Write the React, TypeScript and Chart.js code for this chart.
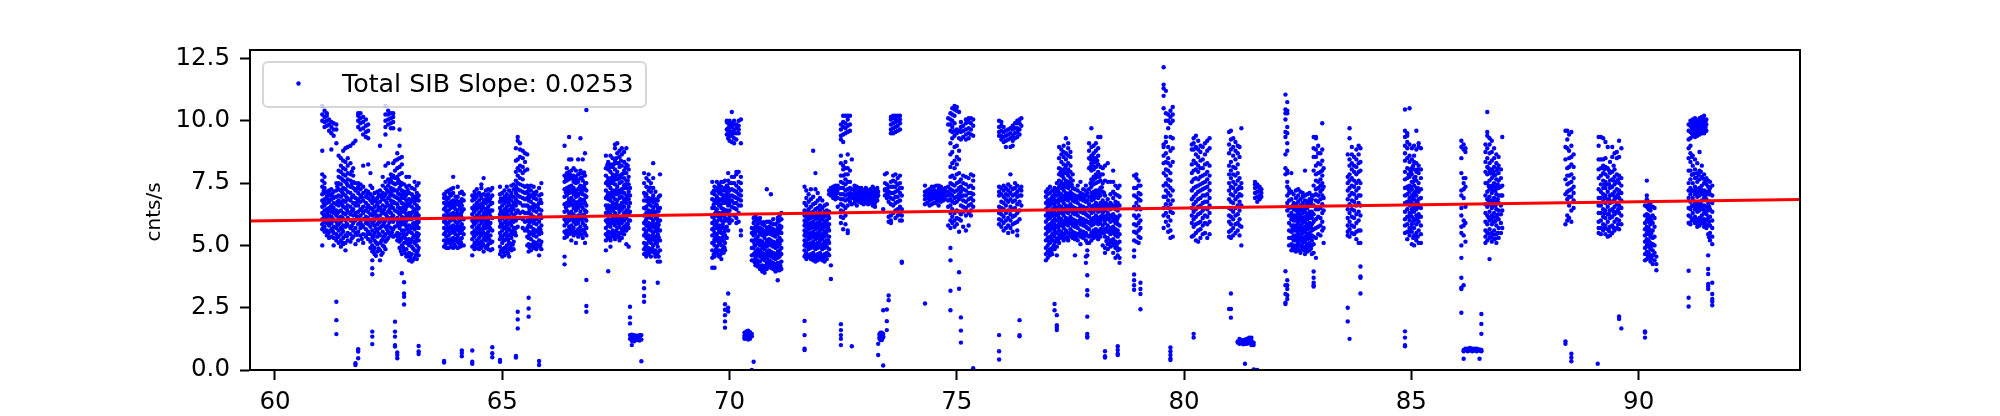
import React, { useEffect, useRef } from "react";
import { Chart, registerables } from "chart.js";

Chart.register(...registerables);

type Column = [number, number[]];

const xTickValues = [60, 65, 70, 75, 80, 85, 90];
const yTickValues = [0, 2.5, 5, 7.5, 10, 12.5];
const fitX = [59.45, 93.55];
const fitY = [5.98, 6.84];
const legendLabel = "Total SIB Slope: 0.0253";
const yTitle = "cnts/s";

const block60to64: Column[] = [
  [61.04,[5.0,5.65,5.85,6.05,6.3,6.55,6.8,7.05,7.35,7.6,7.85,8.8,10.0,10.25,10.6]],
  [61.09,[5.55,5.75,5.95,6.15,6.4,6.6,6.85,7.1,7.3,7.5,7.75,9.75,9.95,10.15,10.4]],
  [61.14,[5.4,5.6,5.9,6.1,6.25,6.45,6.7,6.95,7.15,9.8,10.0,10.2,10.3]],
  [61.19,[5.3,5.55,5.8,6.0,6.2,6.5,6.75,7.0,7.2,9.6,9.85,10.05]],
  [61.24,[5.35,5.65,5.9,6.15,6.35,6.6,6.85,7.05,7.25,9.5,9.75,9.95,8.85]],
  [61.29,[5.0,5.3,5.5,5.75,6.0,6.3,6.5,6.7,6.9,7.15,9.4,9.65,9.9]],
  [61.35,[5.2,5.45,5.7,5.95,6.2,6.4,6.65,6.95,7.2,7.5,9.65,9.85,9.1,2.74,2.0,1.44]],
  [61.4,[5.1,5.35,5.6,5.85,6.1,6.35,6.6,6.8,7.0,7.25,7.5,7.75,8.0,8.6]],
  [61.45,[4.95,5.2,5.45,5.7,5.95,6.15,6.4,6.7,6.95,7.2,7.45,7.7,7.95,8.2,8.5]],
  [61.5,[5.05,5.3,5.55,5.8,6.05,6.3,6.55,6.8,7.05,7.3,7.6,7.85,8.1,8.4,8.8]],
  [61.55,[4.8,5.1,5.4,5.75,6.0,6.25,6.5,6.75,7.0,7.25,7.55,7.8,8.05,8.35,8.9]],
  [61.6,[5.2,5.5,5.8,6.1,6.35,6.6,6.85,7.15,7.4,7.65,7.9,8.2,8.5,8.95]],
  [61.66,[5.15,5.45,5.7,6.0,6.25,6.55,6.8,7.1,7.35,7.6,7.85,8.3,9.0]],
  [61.72,[5.35,5.6,5.9,6.2,6.45,6.7,7.0,7.3,7.55,7.8,8.1,9.1]],
  [61.77,[5.05,5.5,5.7,6.0,6.3,6.6,6.9,7.2,7.5,9.2,0.27,0.2]],
  [61.83,[5.2,5.55,5.85,6.1,6.35,6.6,6.85,7.1,7.35,7.5,9.75,10.0,10.2,10.3,0.47,0.74,0.83]],
  [61.88,[5.4,5.7,5.95,6.2,6.45,6.75,7.0,7.25,7.45,9.65,9.9,10.1,10.3]],
  [61.94,[5.1,5.45,5.75,6.05,6.3,6.55,6.8,7.1,7.35,8.2,9.45,9.7,9.95,10.15]],
  [62.0,[5.35,5.65,5.9,6.15,6.4,6.7,6.95,7.2,9.35,9.55,9.8,10.05]],
  [62.05,[5.25,5.55,5.85,6.1,6.35,6.6,6.9,7.15,8.25,9.3,9.6,9.85]],
  [62.1,[4.9,5.15,5.45,5.75,6.0,6.25,6.5,6.8,7.05,7.4,7.9]],
  [62.14,[4.4,4.75,5.0,5.3,5.6,5.9,6.2,6.45,6.7,6.95,7.3,4.08,3.84,1.54,1.34,1.04]],
  [62.19,[4.65,4.9,5.2,5.5,5.8,6.05,6.3,6.55,6.8,7.1]],
  [62.25,[4.75,5.05,5.35,5.6,5.85,6.1,6.4,6.65,6.9,7.15]],
  [62.31,[4.4,4.8,5.1,5.4,5.7,5.95,6.2,6.5,6.75,7.0,7.2,9.0]],
  [62.37,[4.7,5.0,5.25,5.55,5.8,6.05,6.3,6.6,6.85,7.1,7.4,7.75]],
  [62.43,[4.85,5.15,5.45,5.75,6.0,6.25,6.55,6.8,7.05,7.3,7.55,8.2,9.45,9.75,10.0,10.25,10.6]],
  [62.49,[5.3,5.55,5.8,6.1,6.35,6.6,6.9,7.15,7.4,7.65,8.3,9.85,10.05,10.25,10.4]],
  [62.55,[5.4,5.7,6.0,6.3,6.55,6.8,7.05,7.3,7.6,7.85,9.7,9.9,10.1,10.3]],
  [62.6,[5.35,5.65,5.95,6.2,6.5,6.75,7.0,7.25,7.5,7.8,8.3,9.7,9.95,10.15,10.3]],
  [62.64,[5.4,5.75,6.05,6.4,6.7,6.95,7.2,7.45,7.7,8.0,8.4,1.94,1.54,1.34,1.0,0.94]],
  [62.69,[5.2,5.5,5.8,6.1,6.35,6.65,6.9,7.2,7.5,7.75,8.1,8.45,8.7,0.7,0.6,0.47]],
  [62.74,[4.9,5.15,5.45,5.7,6.0,6.25,6.5,6.8,7.05,7.3,7.55,7.85,8.15,8.5,9.0,9.65]],
  [62.79,[4.65,5.0,5.3,5.6,5.9,6.15,6.4,6.7,6.95,7.2,7.5,7.9,8.25,8.55,3.88]],
  [62.84,[4.8,5.1,5.35,5.6,5.85,6.1,6.35,6.65,6.9,7.15,7.45,3.52,3.07,2.94,2.63]],
  [62.89,[4.55,4.85,5.15,5.45,5.75,6.0,6.25,6.55,6.8,7.05,7.35,7.75]],
  [62.95,[4.4,4.7,5.0,5.25,5.55,5.8,6.05,6.3,6.6,6.85,7.1,7.4,7.75]],
  [63.01,[4.35,4.65,4.95,5.2,5.5,5.75,6.05,6.3,6.55,6.8,7.05,7.3]],
  [63.07,[4.5,4.8,5.1,5.4,5.65,5.9,6.15,6.45,6.7,6.95,7.25,7.55]],
  [63.12,[4.45,4.7,5.0,5.25,5.5,5.8,6.05,6.3,6.6,6.85,7.1,7.4]],
  [63.16,[4.6,4.9,5.2,5.45,5.7,5.95,6.2,6.5,6.8,7.0,7.5,0.96,0.74,0.64]],
  [63.72,[4.95,5.2,5.45,5.7,5.95,6.2,6.45,6.7,6.9,7.05,0.36,0.3]],
  [63.77,[4.9,5.1,5.35,5.6,5.85,6.1,6.35,6.6,6.85,7.15]],
  [63.82,[4.9,5.15,5.4,5.65,5.9,6.15,6.4,6.65,6.9,7.2]],
  [63.87,[4.95,5.25,5.5,5.75,6.0,6.25,6.5,6.75,7.0,7.25]],
  [63.92,[4.9,5.1,5.3,5.55,5.8,6.05,6.3,6.55,6.8,7.1,7.3,7.75]],
  [63.97,[4.95,5.2,5.45,5.7,5.95,6.2,6.45,6.7,6.95]],
  [64.02,[4.9,5.15,5.4,5.65,5.9,6.15,6.4,6.65,6.95,7.35]],
  [64.07,[4.95,5.25,5.5,5.75,6.0,6.25,6.5,6.75,7.1]],
  [64.11,[5.0,5.3,5.6,5.85,6.1,6.35,6.6,6.85,7.15,0.78,0.68,0.55]],
  [64.15,[5.0,5.45,5.7,6.05,6.45,6.8,7.05]],
];

const block64to69: Column[] = [
  [64.34,[4.6,4.95,5.25,5.5,5.75,6.0,6.25,6.5,6.8,7.0,0.78,0.33,0.25]],
  [64.39,[4.85,5.1,5.35,5.6,5.85,6.1,6.35,6.6,6.85,7.15]],
  [64.44,[4.9,5.2,5.45,5.7,5.95,6.2,6.45,6.7,6.95,7.25]],
  [64.49,[4.85,5.05,5.3,5.55,5.8,6.05,6.3,6.55,6.8,7.1]],
  [64.54,[4.9,5.15,5.4,5.65,5.9,6.15,6.4,6.65,6.9,7.3,7.45]],
  [64.59,[4.75,5.0,5.25,5.5,5.75,6.0,6.25,6.5,6.75,7.05,7.7]],
  [64.64,[4.9,5.2,5.45,5.7,5.95,6.2,6.45,6.7,7.0,7.2]],
  [64.69,[4.85,5.05,5.3,5.55,5.8,6.05,6.3,6.55,6.8,7.05,7.25]],
  [64.74,[4.8,5.1,5.4,5.65,5.9,6.15,6.4,6.65,6.9,7.2]],
  [64.78,[4.85,5.15,5.6,6.1,6.4,6.7,7.0,7.3,0.91,0.67,0.51]],
  [64.95,[4.65,4.95,5.25,5.5,5.75,6.0,6.25,6.5,6.75,7.05,7.35,0.4,0.33]],
  [65.0,[4.55,4.85,5.1,5.35,5.6,5.85,6.1,6.35,6.6,6.85,7.1]],
  [65.05,[4.6,4.9,5.2,5.45,5.7,5.95,6.2,6.45,6.7,6.95,7.2]],
  [65.1,[4.75,5.0,5.3,5.55,5.8,6.05,6.3,6.55,6.8,7.05,7.35]],
  [65.15,[4.55,4.85,5.1,5.4,5.65,5.9,6.15,6.4,6.65,6.9,7.2]],
  [65.2,[4.8,5.05,5.3,5.55,5.8,6.05,6.3,6.55,6.8,7.1,7.4]],
  [65.25,[4.85,5.15,5.45,5.7,5.95,6.2,6.45,6.7,6.95,7.25,7.45]],
  [65.3,[5.4,5.7,6.0,6.3,6.6,6.85,7.1,7.35,7.6,7.95,8.4,8.9,0.56,0.5]],
  [65.34,[5.75,6.1,6.4,6.75,7.0,7.25,7.5,7.8,8.1,8.45,9.2,9.35,2.34,2.03,1.67]],
  [65.39,[6.1,6.3,6.7,6.95,7.2,7.45,7.7,8.0,8.2,8.55,8.85,9.1]],
  [65.45,[5.7,6.05,6.35,6.6,6.9,7.15,7.4,7.65,7.9,8.15,8.5,8.8]],
  [65.5,[5.6,5.95,6.3,6.6,6.85,7.1,7.35,8.0,8.35,8.7]],
  [65.55,[5.0,5.35,5.7,6.0,6.3,6.6,6.9,7.15,7.4,8.05,8.65]],
  [65.58,[4.75,5.05,5.3,5.55,5.8,6.05,6.3,6.55,6.8,7.05,7.3,2.9,2.47,2.14]],
  [65.63,[4.8,5.0,5.25,5.5,5.75,6.0,6.25,6.5,6.75,7.0,7.2,7.4]],
  [65.69,[4.9,5.15,5.4,5.65,5.9,6.15,6.4,6.65,6.9,7.1,7.35]],
  [65.75,[4.85,5.1,5.35,5.6,5.85,6.1,6.35,6.6,6.85,7.15]],
  [65.81,[4.6,4.95,5.2,5.45,5.7,5.95,6.2,6.45,6.7,7.0,7.3,0.36,0.2]],
  [65.86,[4.85,5.15,5.5,5.8,6.1,6.4,6.7,7.05,7.5]],
  [66.37,[5.3,5.55,5.8,6.05,6.35,6.65,6.95,7.25,7.55,7.8,9.0,4.55,4.24]],
  [66.42,[5.35,5.6,5.9,6.15,6.4,6.7,7.0,7.3,7.6,7.9,8.1]],
  [66.47,[5.45,5.75,6.0,6.3,6.6,6.85,7.1,7.35,7.65,7.95,8.45,9.35]],
  [66.52,[5.2,5.5,5.8,6.05,6.35,6.65,6.9,7.15,7.4,7.7,8.0,8.45]],
  [66.57,[5.4,5.7,5.95,6.25,6.5,6.8,7.05,7.3,7.55,7.8,8.1]],
  [66.62,[5.1,5.55,5.85,6.1,6.4,6.7,6.95,7.2,7.5,7.75,8.0]],
  [66.67,[5.35,5.65,5.9,6.2,6.5,6.75,7.0,7.25,7.55,7.85,8.45]],
  [66.72,[5.45,5.75,6.05,6.35,6.6,6.85,7.1,7.4,7.7,8.0,9.3]],
  [66.77,[5.3,5.6,5.9,6.2,6.5,6.8,7.05,7.3,7.6,7.9,8.45]],
  [66.82,[5.1,5.5,5.8,6.1,6.4,6.7,7.0,7.25,7.5,7.8,8.7]],
  [66.85,[5.4,5.7,6.0,6.35,6.6,6.95,7.2,7.5,10.43,3.61,2.57,2.34]],
  [67.28,[4.8,5.2,5.45,5.7,6.0,6.3,6.6,6.9,7.2,7.5,7.8,8.1,8.6]],
  [67.33,[5.3,5.55,5.8,6.05,6.3,6.6,6.85,7.1,7.4,7.7,8.05,8.35,3.96]],
  [67.38,[4.95,5.2,5.5,5.75,6.0,6.25,6.5,6.8,7.05,7.3,7.6,7.95,8.25,8.6]],
  [67.43,[5.35,5.6,5.9,6.15,6.4,6.7,6.95,7.2,7.5,7.85,8.15,8.5]],
  [67.48,[5.25,5.5,5.8,6.05,6.3,6.6,6.85,7.15,7.45,7.75,8.05,8.4,8.9,9.05]],
  [67.53,[5.4,5.7,5.95,6.2,6.5,6.8,7.05,7.35,7.65,7.95,8.3,8.7,9.1]],
  [67.58,[5.2,5.5,5.75,6.05,6.35,6.6,6.9,7.2,7.5,7.8,8.15,8.55,8.8]],
  [67.63,[5.3,5.65,5.9,6.15,6.45,6.7,6.95,7.25,7.55,7.85,8.2,8.65,8.9]],
  [67.68,[5.45,5.75,6.0,6.3,6.55,6.85,7.1,7.4,7.7,8.0,8.35,8.75]],
  [67.73,[5.05,5.6,5.85,6.1,6.4,6.7,7.0,7.3,7.6,7.9,8.25,8.9]],
  [67.78,[4.95,5.7,6.0,6.25,6.55,6.85,7.15,7.45,7.75,8.05,8.45]],
  [67.81,[6.0,6.35,6.7,7.0,7.3,2.54,2.11,1.87,1.4,1.25]],
  [67.85,[1.42,1.3,1.17,1.0]],
  [67.9,[1.4,1.25,1.15]],
  [67.96,[1.38,1.28,1.2]],
  [68.02,[1.4,1.3,1.18]],
  [68.06,[1.4,1.22,0.35]],
  [68.12,[4.65,4.85,5.1,5.4,5.65,5.9,6.2,6.5,6.8,7.1,7.5,7.9,3.54,3.28,2.97,2.74]],
  [68.17,[4.55,4.8,5.05,5.3,5.55,5.8,6.05,6.3,6.55,6.8,7.05,7.35,7.7]],
  [68.22,[4.65,4.9,5.15,5.4,5.65,5.9,6.15,6.4,6.65,6.9,7.2,7.6,7.85]],
  [68.27,[4.55,4.85,5.1,5.35,5.6,5.85,6.1,6.35,6.6,6.85,7.15,7.5]],
  [68.32,[4.75,5.0,5.25,5.5,5.75,6.0,6.25,6.5,6.75,7.0,7.3,7.7,8.3]],
  [68.37,[4.55,4.8,5.1,5.35,5.6,5.85,6.1,6.35,6.6,6.85,7.15]],
  [68.42,[4.35,4.7,4.95,5.2,5.45,5.7,5.95,6.2,6.5,6.8,3.5]],
  [68.47,[4.35,4.8,5.2,5.6,6.0,6.5,7.0,7.85]],
  [69.62,[4.1,4.5,4.8,5.1,5.4,5.65,5.9,6.15,6.5,6.85,7.1,7.55]],
  [69.67,[4.55,4.75,5.0,5.25,5.5,5.75,6.0,6.25,6.5,6.75,7.05,7.35,4.1]],
  [69.72,[4.7,4.95,5.2,5.45,5.7,5.95,6.2,6.45,6.7,6.95,7.2,7.55]],
  [69.77,[4.55,4.8,5.05,5.3,5.55,5.8,6.05,6.3,6.6,6.85,7.1,7.45]],
  [69.82,[4.45,4.75,5.0,5.25,5.5,5.75,6.0,6.25,6.5,6.8,7.05,7.35,7.55]],
  [69.87,[4.7,4.95,5.2,5.45,5.7,5.95,6.2,6.45,6.7,7.0,7.2,7.55]],
  [69.9,[4.8,5.1,5.4,5.7,6.1,6.4,6.75,7.0,7.3,7.6,2.64,2.42,2.2,1.95,1.7]],
];

const block69to73: Column[] = [
  [69.94,[5.3,5.75,6.0,6.4,6.7,6.95,7.15,7.4,9.45,9.65,9.95,10.0]],
  [69.97,[5.6,6.05,6.35,6.6,6.85,7.05,7.3,7.6,7.9,9.3,9.5,9.7,9.9,3.07,2.5,2.35]],
  [70.0,[5.9,6.15,6.4,6.7,6.95,7.2,7.5,9.2,9.4,9.6,9.8,10.0]],
  [70.05,[6.0,6.55,6.8,7.0,7.25,7.5,7.75,9.15,9.4,9.55,9.75,9.9,10.35]],
  [70.1,[6.2,6.5,6.7,6.95,7.2,7.5,7.75,9.1,9.3,9.5,9.65,9.85,10.0]],
  [70.15,[5.9,6.1,6.45,6.7,6.9,7.15,7.4,7.85,7.95,9.25,9.5,9.7,9.85]],
  [70.2,[5.95,6.3,6.6,6.85,7.05,7.3,7.55,7.95,9.5,9.65,9.8,10.0]],
  [70.25,[5.4,5.6,6.6,6.8,7.0,7.2,7.5,7.75,9.1,10.05]],
  [70.33,[1.5,1.38,1.3,1.25]],
  [70.37,[1.55,1.45,1.35,1.27]],
  [70.41,[1.58,1.48,1.4,1.3,1.22]],
  [70.45,[1.52,1.42,1.35,1.25]],
  [70.49,[5.7,5.5,5.2,4.9,4.6,4.4,1.45,1.35,0.0]],
  [70.53,[4.4,4.65,4.9,5.15,5.4,5.65,5.9,6.1,0.33]],
  [70.57,[4.2,4.5,4.75,5.0,5.25,5.5,5.75,6.0,6.2,6.15]],
  [70.62,[4.15,4.4,4.6,4.85,5.1,5.35,5.6,5.85,6.05]],
  [70.67,[4.05,4.35,4.55,4.8,5.0,5.2,5.45,5.7,5.95,6.1]],
  [70.72,[3.95,4.2,4.45,4.7,4.9,5.15,5.4,5.65,5.85]],
  [70.77,[3.9,4.15,4.4,4.65,4.85,5.05,5.3,5.55,5.8]],
  [70.82,[4.05,4.3,4.5,4.75,4.95,5.2,5.45,5.7,5.95,7.25]],
  [70.87,[4.15,4.4,4.6,4.8,5.05,5.25,5.5,5.75,5.95]],
  [70.91,[4.1,4.35,4.55,4.75,5.0,5.2,5.45,5.7,5.9,7.05]],
  [70.96,[4.05,4.3,4.5,4.7,4.95,5.15,5.4,5.65,5.85,6.05]],
  [71.01,[3.95,4.25,4.45,4.65,4.9,5.1,5.35,5.6,5.85]],
  [71.06,[3.6,4.0,4.3,4.5,4.75,4.95,5.2,5.45,5.7,5.95,6.1]],
  [71.1,[4.0,4.3,4.55,4.8,5.05,5.3,5.55,5.8,6.0,6.2]],
  [71.14,[4.05,4.35,4.65,4.9,5.2,5.5,5.75,6.05,6.3]],
  [71.65,[4.55,4.8,5.0,5.2,5.4,5.6,5.8,6.0,6.2,6.4,6.7,7.35,1.97,1.4,0.85,0.8]],
  [71.69,[4.45,4.7,4.95,5.15,5.35,5.55,5.75,5.95,6.15,6.35,6.6,6.9,7.2]],
  [71.74,[4.6,4.85,5.05,5.25,5.45,5.65,5.85,6.05,6.25,6.45,6.75,7.05]],
  [71.79,[4.45,4.65,4.9,5.1,5.3,5.5,5.7,5.9,6.1,6.3,6.55,6.85,7.25]],
  [71.84,[4.4,4.7,4.95,5.15,5.35,5.55,5.75,5.95,6.15,6.35,6.65,6.95,8.8]],
  [71.89,[4.35,4.6,4.85,5.05,5.25,5.45,5.65,5.85,6.05,6.25,6.45,6.7,7.25,7.9]],
  [71.94,[4.4,4.65,4.9,5.1,5.3,5.5,5.7,5.9,6.1,6.3,6.5,6.8,7.1]],
  [71.99,[4.45,4.7,4.95,5.2,5.4,5.6,5.8,6.0,6.2,6.4,6.6,6.9]],
  [72.04,[4.4,4.6,4.85,5.05,5.25,5.45,5.65,5.85,6.05,6.25,6.5,6.8]],
  [72.09,[4.35,4.65,4.9,5.15,5.35,5.55,5.75,5.95,6.15,6.35,6.6]],
  [72.14,[4.45,4.7,4.95,5.2,5.4,5.6,5.8,6.0,6.2,6.4,6.65]],
  [72.19,[4.6,4.85,5.1,5.35,5.6,5.85,6.1,6.35,7.05,7.2]],
  [72.23,[4.2,3.65,7.0,7.1,7.25,7.3]],
  [72.28,[6.9,7.05,7.2,7.35]],
  [72.33,[6.85,7.0,7.15,7.3,7.4]],
  [72.38,[6.55,6.9,7.1,7.25,7.4]],
  [72.45,[5.9,6.15,6.4,6.65,6.85,7.05,7.3,7.55,7.8,8.3,8.6,9.25,9.4,9.65,9.85,1.84,1.6,1.4,1.25,1.0]],
  [72.5,[5.65,6.1,6.35,6.6,6.85,7.05,7.3,7.5,7.8,8.05,8.2,9.15,9.45,9.75,9.95,10.2]],
  [72.55,[5.85,6.2,6.5,6.8,7.0,7.2,7.45,7.65,7.85,8.1,8.35,9.5,9.7,9.9,10.2]],
  [72.6,[5.5,5.6,6.6,6.85,7.05,7.25,7.55,7.85,8.1,8.65,9.55,9.8,10.05,10.2]],
  [72.65,[6.75,6.95,7.1,7.3,7.55,8.0,9.6,9.85,10.2]],
  [72.69,[6.65,6.9,7.05,7.25,8.45,0.95]],
  [72.75,[6.7,6.85,7.0,7.15,7.25,7.4]],
  [72.8,[6.6,6.8,6.95,7.1,7.25,7.35]],
  [72.85,[6.75,6.9,7.05,7.2,7.3]],
  [72.9,[6.7,6.85,7.0,7.15,7.25,7.3]],
  [72.95,[6.65,6.8,6.95,7.1,7.2]],
  [73.0,[6.7,6.85,7.0,7.1,7.2,7.3]],
  [73.05,[6.65,6.8,6.95,7.05,7.2]],
  [73.1,[6.7,6.85,7.0,7.1,7.25]],
  [73.15,[6.6,6.7,6.85,7.0,7.15,7.35]],
  [73.2,[6.7,6.8,6.95,7.1,7.25,6.55]],
  [73.25,[6.8,6.95,7.05,7.2,7.3]],
  [73.27,[7.0,7.15,1.05,0.6]],
  [73.3,[1.25,1.3,1.4,1.45]],
  [73.32,[1.2,1.35,1.45,1.5]],
  [73.35,[1.2,1.3,1.42,1.5]],
];

const block73to79: Column[] = [
  [73.38,[6.45,1.3,1.35,1.45,0.18,2.4]],
  [73.42,[7.0,7.2,7.5,7.85,7.25]],
  [73.46,[6.9,7.05,7.25,7.45,7.9,2.43,1.96,1.6]],
  [73.5,[6.75,6.95,7.15,7.35,6.15,5.95,7.15,2.99,2.8]],
  [73.55,[6.65,6.9,7.1,7.35,7.55,6.2,6.0,5.9,9.5,9.65,9.85,10.05,10.15]],
  [73.6,[6.3,6.6,6.85,7.1,7.35,7.6,7.8,9.5,9.7,9.9,10.1,10.2]],
  [73.65,[6.1,6.4,6.7,6.95,7.15,7.35,7.55,7.85,9.55,9.75,9.95,10.1,10.2]],
  [73.7,[6.2,6.45,6.75,6.95,7.2,7.45,7.7,9.6,9.8,10.0,10.2]],
  [73.75,[6.0,6.25,6.55,6.8,7.1,7.3,7.5,7.8,9.65,9.9,10.05,10.2]],
  [73.79,[6.0,6.2,6.45,7.0,7.3,4.35,4.3]],
  [74.3,[6.65,6.85,7.0,7.15,7.4,2.67]],
  [74.35,[6.7,6.9,7.05,7.2]],
  [74.4,[6.6,6.8,6.95,7.1,7.25]],
  [74.45,[6.65,6.85,7.0,7.15,7.35]],
  [74.5,[6.7,6.9,7.05,7.2,7.35]],
  [74.55,[6.7,6.85,7.0,7.15,7.4]],
  [74.6,[6.6,6.8,6.95,7.1,7.25,7.4]],
  [74.65,[6.75,6.9,7.05,7.2,7.35]],
  [74.7,[6.8,6.95,7.1,7.25]],
  [74.75,[6.85,7.0,7.15,7.3]],
  [74.81,[5.8,6.55,6.8,7.0,7.15,7.35,9.85,10.1]],
  [74.86,[5.7,6.0,6.3,6.6,6.85,7.05,7.25,7.5,7.75,8.15,8.65,9.1,9.6,9.85,10.05,10.3,4.9,4.4,3.18,2.4]],
  [74.9,[5.9,6.15,6.45,6.75,7.0,7.2,7.45,7.8,8.3,8.75,9.3,9.55,9.75,10.0,10.25,10.5]],
  [74.95,[5.75,6.0,6.3,6.7,6.9,7.15,7.4,7.7,8.1,8.4,8.95,9.4,9.6,9.9,10.2,10.45,10.6]],
  [75.0,[5.85,6.1,6.4,6.75,6.95,7.2,7.5,7.85,8.25,8.55,9.0,9.5,9.65,10.4,10.55]],
  [75.05,[5.55,6.05,6.35,6.85,7.05,7.3,7.55,7.9,8.45,8.8,9.3,9.6,10.35,3.92,3.26]],
  [75.09,[6.0,6.25,6.6,6.95,7.15,7.35,7.65,9.25,9.55,9.75,9.95,2.11,1.58,1.1]],
  [75.14,[5.75,6.35,6.55,6.8,7.0,7.25,7.5,7.8,9.35,9.6,9.8]],
  [75.2,[5.6,6.2,6.5,6.75,7.0,7.2,7.45,7.75,9.25,9.45,9.65,9.9,10.05]],
  [75.26,[5.8,6.3,6.6,6.85,7.1,7.35,7.7,9.3,9.5,9.7,9.95,10.1]],
  [75.31,[6.2,6.4,6.65,6.9,7.1,7.4,7.85,9.45,9.65,9.9,10.1]],
  [75.36,[6.55,6.8,7.05,7.3,7.6,7.8,9.4,9.8,10.05,0.07,0.0]],
  [75.93,[5.85,6.05,6.3,6.55,7.0,7.15,7.35,9.4,9.55,9.75,10.0,1.4,0.75,0.42]],
  [75.98,[5.75,6.0,6.25,6.5,6.75,7.05,7.3,9.25,9.4,9.6,9.8,9.95]],
  [76.03,[5.6,5.9,6.15,6.45,6.7,6.95,7.2,7.4,9.15,9.35,9.55,9.75]],
  [76.08,[5.7,6.0,6.3,6.6,6.85,7.05,7.3,9.2,9.4,9.6,8.95]],
  [76.13,[5.5,5.8,6.1,6.4,6.75,7.0,7.2,7.45,9.25,9.45,9.65]],
  [76.18,[5.7,6.0,6.25,6.55,6.85,7.1,7.35,7.85,9.3,9.5,9.7,8.95]],
  [76.23,[5.55,5.85,6.15,6.45,6.75,7.0,7.25,9.2,9.4,9.65,9.8,9.0]],
  [76.28,[5.9,6.2,6.5,6.8,7.05,7.3,7.5,9.3,9.5,9.7,9.9]],
  [76.33,[5.4,5.6,5.95,6.3,6.65,6.95,7.15,7.4,9.35,9.55,9.7,9.9,10.0]],
  [76.38,[6.05,6.4,6.75,7.0,7.25,9.45,9.65,9.9,10.05,2.0,1.4,1.35]],
  [76.42,[6.6,7.0,7.2,7.35,9.8,10.1]],
  [76.96,[4.4,4.65,4.9,5.2,5.45,5.7,5.95,6.2,6.45,6.7,6.95,7.15]],
  [77.0,[4.5,4.75,5.0,5.3,5.55,5.8,6.05,6.3,6.55,6.8,7.05,7.25]],
  [77.05,[4.6,4.85,5.1,5.35,5.6,5.85,6.1,6.35,6.6,6.85,7.1,7.35]],
  [77.1,[4.65,4.9,5.2,5.45,5.7,5.95,6.2,6.45,6.7,6.95,7.2]],
  [77.15,[4.85,5.1,5.35,5.6,5.85,6.1,6.35,6.6,6.85,7.1,7.3,2.65,2.4]],
  [77.2,[4.6,4.95,5.25,5.5,5.75,6.0,6.25,6.5,6.75,7.0,7.25,7.5,2.2,1.8,1.7,1.6]],
  [77.25,[5.1,5.35,5.6,5.85,6.1,6.35,6.6,6.85,7.1,7.35,7.6,7.85,8.1,8.5,8.95]],
  [77.3,[5.3,5.55,5.8,6.05,6.3,6.55,6.8,7.05,7.3,7.55,7.8,8.05,8.35,8.65,8.85]],
  [77.35,[5.2,5.45,5.7,5.95,6.2,6.45,6.7,6.95,7.2,7.45,7.7,7.95,8.25,8.55,8.75,9.0]],
  [77.4,[5.3,5.6,5.85,6.1,6.35,6.6,6.85,7.1,7.35,7.6,7.9,8.2,8.45,8.7,9.3]],
  [77.45,[5.2,5.5,5.8,6.05,6.3,6.55,6.8,7.05,7.3,7.55,7.8,8.05,8.3,8.6,8.9,9.1]],
  [77.5,[5.35,5.65,5.9,6.15,6.4,6.65,6.9,7.15,7.4,7.7,7.95,8.2,8.55,8.75]],
  [77.55,[5.3,5.55,5.8,6.05,6.3,6.55,6.8,7.05,7.3,7.6,7.85]],
  [77.6,[4.6,5.25,5.5,5.75,6.0,6.25,6.5,6.75,7.0,7.25]],
  [77.66,[5.2,5.45,5.7,5.95,6.2,6.45,6.7,6.95,7.2,7.4]],
  [77.72,[5.05,5.35,5.6,5.85,6.1,6.35,6.6,6.85,7.1,7.55]],
  [77.78,[5.3,5.55,5.8,6.05,6.3,6.55,6.8,7.05,7.25]],
  [77.84,[4.3,4.55,5.2,5.5,5.75,6.0,6.25,6.5,6.75,7.0,7.2,7.4]],
  [77.87,[4.6,4.8,5.1,5.4,5.7,5.95,6.2,6.5,6.8,7.1,3.8,3.2,3.0,2.14,1.45,1.3,1.35]],
  [77.91,[5.1,5.35,5.65,5.9,6.15,6.4,6.65,6.95,7.25,8.1,8.5,8.8,9.1]],
  [77.96,[5.2,5.5,5.8,6.05,6.3,6.55,6.8,7.1,7.35,7.65,8.0,8.3,8.6,8.95,9.7]],
  [78.01,[5.3,5.6,5.85,6.1,6.35,6.6,6.85,7.15,7.45,7.75,8.05,8.4,8.7,9.0]],
  [78.06,[5.35,5.65,5.95,6.2,6.45,6.7,6.95,7.2,7.5,7.85,8.15,8.5,8.8,9.1]],
  [78.11,[5.25,5.55,5.85,6.1,6.35,6.6,6.9,7.2,7.55,7.95,8.25,8.6,8.9,9.35]],
  [78.16,[5.35,5.65,5.9,6.15,6.4,6.7,7.0,7.3,7.6,7.85,8.15,9.35]],
  [78.21,[5.0,5.5,5.8,6.05,6.3,6.55,6.8,7.15,7.5,7.85,8.1]],
  [78.26,[4.7,4.9,5.35,5.65,5.9,6.15,6.4,6.7,7.0,7.6,8.2,0.75,0.55,0.5]],
  [78.32,[4.85,5.05,5.3,5.55,5.8,6.05,6.3,6.55,6.85,7.55,8.3]],
  [78.38,[4.95,5.2,5.45,5.7,5.95,6.2,6.45,6.7,7.05,7.55]],
  [78.44,[4.7,5.0,5.25,5.5,5.75,6.0,6.25,6.55,6.9,7.15,7.55,8.0]],
  [78.49,[4.5,4.9,5.15,5.4,5.65,5.9,6.15,6.45,6.75,7.05,7.4]],
  [78.54,[4.6,4.8,5.1,5.35,5.6,5.85,6.1,6.4,6.7,7.0,7.3,0.95,0.8,0.65,0.6]],
  [78.58,[4.3,4.5,4.85,5.15,5.45,5.8,6.2,6.6,6.95,7.4]],
  [78.9,[4.55,4.8,5.2,5.55,5.85,6.2,6.55,7.0,7.3,7.8,3.83,3.6,3.4,3.22]],
  [78.95,[5.15,5.5,5.8,6.1,6.45,6.7,6.95,7.3,7.7,7.85]],
  [79.0,[5.1,5.35,5.6,5.9,6.2,6.55,6.85,7.1,7.4,7.6]],
  [79.04,[5.3,5.7,6.0,6.45,6.8,7.05,7.4,3.5,3.25,3.05,2.44]],
];

const block79to85: Column[] = [
  [79.55,[5.7,6.2,6.5,6.95,7.4,7.9,8.3,8.6,8.95,9.05,10.5,11.0,11.3,11.45,12.15]],
  [79.6,[5.95,6.3,6.65,6.95,7.2,7.5,7.8,8.05,8.35,8.7,9.15,9.35,10.0,10.3,11.2]],
  [79.65,[5.55,5.8,6.15,6.5,6.8,7.1,7.4,7.65,8.0,8.3,8.5,8.95,9.7,10.0,10.25]],
  [79.7,[5.3,5.6,6.0,6.35,6.65,7.0,7.3,7.6,7.9,8.2,8.8,9.35,9.9,10.15,10.4,0.9,0.75,0.6,0.45,0.4]],
  [79.75,[5.35,6.3,6.8,7.2,8.35,8.9,9.3,10.0,10.25,10.55]],
  [80.17,[5.35,5.9,6.2,6.5,6.85,7.2,7.55,7.9,8.25,8.85,9.05]],
  [80.21,[5.4,5.75,6.05,6.35,6.65,6.95,7.3,7.65,8.0,8.4,8.85,9.1,9.3,1.45,1.3]],
  [80.26,[5.2,5.5,5.85,6.15,6.45,6.75,7.05,7.35,7.7,8.05,8.3,8.65,8.95,9.4]],
  [80.31,[5.15,5.6,5.9,6.25,6.55,6.85,7.15,7.4,7.65,7.95,8.2,8.55,8.85,9.2]],
  [80.36,[5.3,5.65,5.95,6.3,6.6,6.9,7.2,7.45,7.75,8.1,8.4,8.75,9.0]],
  [80.41,[5.45,5.8,6.1,6.4,6.7,7.0,7.25,7.5,7.8,8.1,8.45,8.95]],
  [80.46,[5.5,5.9,6.2,6.5,6.75,7.0,7.3,7.55,7.85,8.25,8.65,9.1]],
  [80.51,[5.3,5.85,6.15,6.45,6.75,7.05,7.35,7.65,7.95,8.3,8.8,9.2]],
  [80.56,[5.45,5.95,6.3,6.6,6.9,7.2,7.5,7.8,8.2,8.9,9.3]],
  [80.99,[5.35,5.55,5.95,6.2,6.5,6.85,7.2,7.5,7.85,8.2,8.7,9.05,9.55,2.45]],
  [81.03,[5.3,5.6,5.85,6.15,6.45,6.75,7.05,7.35,7.7,8.0,8.35,8.85,9.25,9.6,3.07,2.45,2.1]],
  [81.08,[5.4,5.7,6.05,6.35,6.7,7.0,7.3,7.55,7.85,8.15,8.6,8.95,9.3]],
  [81.13,[5.5,5.85,6.2,6.5,6.85,7.15,7.45,7.8,8.1,8.45,8.8,9.15]],
  [81.18,[5.6,5.9,6.25,6.6,6.95,7.25,7.6,7.9,8.25,8.7,9.0,1.15,1.1]],
  [81.22,[5.4,5.8,6.05,6.4,6.75,7.05,7.35,7.7,8.55,8.95,1.25,1.12,1.05]],
  [81.26,[5.0,5.75,6.6,7.0,7.3,7.5,9.7,1.2,1.1]],
  [81.3,[1.2,1.1,1.03]],
  [81.34,[1.22,1.12,1.05,0.25]],
  [81.38,[1.25,1.15,1.05]],
  [81.43,[1.3,1.18,1.08]],
  [81.48,[1.3,1.2,1.1,1.0]],
  [81.53,[1.0,1.1,0.02]],
  [81.56,[6.9,7.1,7.3,7.45,7.55,0.0]],
  [81.61,[6.75,6.95,7.15,7.35,7.45,0.0]],
  [81.66,[6.85,7.0,7.2,7.35]],
  [81.7,[6.95,7.1,7.25]],
  [82.23,[3.96,3.4,3.05,2.7,2.65,9.35,9.55,10.05,10.3,10.45,11.05,8.65,8.1,7.85]],
  [82.27,[6.4,6.7,7.0,7.35,7.55,7.9,8.0,8.8,9.1,9.5,9.75,10.3,10.4,10.75,3.6,3.4,3.25,3.0,2.85]],
  [82.31,[5.0,5.3,5.6,5.9,6.2,6.5,6.8,7.1,7.25]],
  [82.36,[4.8,5.05,5.3,5.55,5.8,6.05,6.3,6.55,6.85,7.15,7.9]],
  [82.41,[4.8,5.0,5.2,5.4,5.6,5.8,6.0,6.2,6.45,6.7,7.05]],
  [82.46,[4.75,5.0,5.2,5.4,5.6,5.8,6.0,6.2,6.4,6.65,6.9,7.2]],
  [82.51,[4.85,5.1,5.3,5.5,5.7,5.9,6.1,6.3,6.5,6.75,7.0,7.25]],
  [82.56,[4.7,5.0,5.2,5.4,5.6,5.8,6.0,6.2,6.4,6.6,6.85,7.15]],
  [82.61,[4.85,5.1,5.3,5.5,5.7,5.9,6.1,6.3,6.5,6.7,6.95,7.1]],
  [82.66,[4.65,4.95,5.15,5.35,5.55,5.75,5.95,6.15,6.35,6.55,6.8,7.0,8.0]],
  [82.71,[4.75,5.05,5.25,5.45,5.65,5.85,6.05,6.25,6.5,6.75,7.05]],
  [82.76,[4.8,5.1,5.3,5.5,5.7,5.9,6.1,6.35,6.6,6.85,7.1]],
  [82.81,[4.65,5.0,5.2,5.4,5.6,5.85,6.1,6.35,6.6,6.85,7.0]],
  [82.85,[4.7,5.05,5.35,5.65,5.95,6.25,6.6,7.0,7.4,8.0,8.55,8.9,9.35,3.95,3.7,3.5,3.4,3.35]],
  [82.9,[4.5,5.3,5.7,6.05,6.45,6.8,7.05,7.25,7.6,7.85,8.2,8.55,8.85,9.3,9.35]],
  [82.95,[5.45,5.75,6.15,6.45,6.75,7.0,7.3,7.55,7.9,8.3,8.7,9.0]],
  [83.0,[5.4,5.8,6.1,6.5,6.85,7.15,7.4,7.65,7.95,8.25,8.7]],
  [83.04,[5.6,5.95,6.3,6.65,7.0,7.25,7.5,7.8,8.0,8.4,9.9,8.85]],
  [83.07,[5.1,5.7,6.4,6.9,7.35,8.1]],
  [83.6,[5.4,5.55,5.8,6.1,6.45,6.85,7.2,7.5,7.75,8.65,2.5,1.95]],
  [83.64,[5.35,5.65,5.95,6.3,6.65,7.0,7.3,7.6,7.85,8.2,8.45,9.7,9.3,1.25]],
  [83.69,[5.5,5.8,6.15,6.45,6.8,7.1,7.4,7.7,8.05,8.3,8.65,8.95]],
  [83.74,[5.45,5.75,6.1,6.4,6.75,7.05,7.35,7.6,7.95,8.2,8.55]],
  [83.79,[5.25,5.55,5.9,6.25,6.6,6.9,7.2,7.5,7.85,8.15,8.45,8.85]],
  [83.84,[5.1,5.6,6.0,6.35,6.7,7.0,7.3,7.6,7.95,8.3,8.65,9.0]],
  [83.88,[5.1,5.6,6.2,6.6,7.0,7.5,8.0,8.35,8.9,4.15,3.75,3.7,3.07]],
  [84.86,[5.5,5.8,6.05,6.35,6.7,7.0,7.3,7.65,7.95,8.4,8.7,9.0,9.35,9.6,10.45,1.55,1.3,1.0,0.95]],
  [84.91,[5.25,5.55,5.85,6.15,6.45,6.75,7.05,7.35,7.7,8.1,8.5,8.9,9.15,9.4,9.5]],
  [84.96,[5.4,5.7,6.0,6.3,6.6,6.9,7.15,7.4,7.75,8.05,8.35,8.6,9.05,10.5]],
  [85.01,[5.05,5.55,5.85,6.15,6.45,6.7,7.0,7.25,7.55,7.85,8.1,8.45,8.9]],
  [85.06,[5.0,5.4,5.7,6.05,6.35,6.6,6.85,7.1,7.4,7.7,8.05,8.35,8.6,9.0]],
  [85.11,[5.2,5.5,5.85,6.2,6.45,6.75,7.0,7.3,7.6,7.95,8.3,8.85,9.6]],
  [85.16,[5.1,5.6,5.95,6.25,6.55,6.85,7.15,7.5,7.9,8.2,8.95,9.1]],
  [85.21,[5.1,5.45,5.8,6.15,6.5,6.9,7.25,7.7,8.05,8.9]],
];

const block86to92: Column[] = [
  [86.1,[4.5,5.0,5.5,5.75,6.2,6.5,7.0,7.2,7.9,8.5,8.95,9.2,3.7,3.3,3.25,2.3]],
  [86.15,[5.4,5.8,6.0,6.9,7.25,7.5,7.7,8.85,9.05,3.4,0.8,0.75,0.45]],
  [86.19,[5.15,5.9,6.55,7.35,7.7,8.75,8.9,0.85,0.8]],
  [86.24,[0.85,0.8,0.75]],
  [86.29,[0.88,0.78]],
  [86.34,[0.85,0.75]],
  [86.39,[0.85,0.78]],
  [86.44,[0.85,0.75]],
  [86.5,[0.82,0.78,0.45]],
  [86.54,[0.8,0.75,2.25,1.85,1.45]],
  [86.63,[5.1,5.35,5.6,5.95,6.3,6.65,7.0,7.5,7.95,8.35,8.75,9.05]],
  [86.67,[5.2,5.5,5.85,6.2,6.55,6.85,7.15,7.5,7.85,8.15,8.5,8.9,9.4,9.55,10.35]],
  [86.72,[5.3,5.65,6.0,6.35,6.65,6.95,7.25,7.6,7.95,8.3,8.7,9.05,9.3,4.45]],
  [86.77,[5.15,5.5,5.85,6.2,6.5,6.8,7.1,7.4,7.7,8.05,8.4,8.75,9.2]],
  [86.82,[5.25,5.6,5.95,6.3,6.6,6.9,7.2,7.5,7.8,8.15,8.5,8.9]],
  [86.87,[5.1,5.45,5.8,6.15,6.45,6.75,7.05,7.35,7.65,8.0,8.3,8.65]],
  [86.92,[5.3,5.7,6.05,6.4,6.7,7.0,7.3,7.6,7.9,8.2,8.55]],
  [86.97,[5.5,5.9,6.25,6.6,7.0,7.35,7.7,8.05]],
  [87.0,[5.7,6.4,7.0,7.4,9.35]],
  [88.39,[5.85,7.05,7.65,8.45,8.95,9.6,1.15,1.05]],
  [88.43,[6.0,6.2,6.85,7.15,7.45,7.8,8.1,8.9,9.25,9.6]],
  [88.47,[6.1,6.6,6.95,7.2,7.5,7.8,8.15,8.5,8.8,9.45]],
  [88.52,[5.95,6.4,6.95,7.25,7.55,7.85,8.25,8.55,9.0,9.55,0.65,0.5,0.35]],
  [88.57,[6.5,6.8,7.1,7.35,7.7,8.15,8.65]],
  [89.1,[0.25]],
  [89.12,[5.5,5.7,5.95,6.3,6.6,6.9,7.25,7.7,8.05,8.45,9.0,9.35]],
  [89.17,[5.45,5.7,6.0,6.3,6.6,6.9,7.15,7.45,7.8,8.1,8.45,9.35]],
  [89.22,[5.6,5.85,6.15,6.45,6.75,7.05,7.3,7.6,7.9,8.2,8.45,9.3]],
  [89.27,[5.45,5.8,6.1,6.4,6.7,7.0,7.3,7.55,7.85,8.15,8.5,9.15]],
  [89.32,[5.35,5.65,5.95,6.25,6.55,6.85,7.15,7.45,7.75,8.1,8.95]],
  [89.37,[5.4,5.75,6.1,6.4,6.7,7.0,7.3,7.6,7.9,8.35]],
  [89.42,[5.5,5.8,6.15,6.45,6.75,7.05,7.35,7.65,7.95,8.55,8.95]],
  [89.47,[5.6,5.95,6.25,6.55,6.85,7.15,7.45,7.75,8.05,8.7]],
  [89.52,[5.7,6.05,6.35,6.65,6.95,7.25,7.55,7.85,8.5,8.75]],
  [89.57,[5.65,6.0,6.3,6.6,6.9,7.2,7.5,7.8,8.55,9.2,2.15,2.05]],
  [89.62,[5.85,6.2,6.5,6.8,7.1,7.4,7.7,8.9,1.67]],
  [90.14,[4.4,4.65,4.9,5.15,5.4,5.65,5.9,6.2,6.6,1.55,1.5,1.3]],
  [90.18,[4.45,4.75,5.0,5.25,5.5,5.75,6.0,6.25,6.55,6.85,7.0,7.6]],
  [90.22,[4.5,4.7,4.95,5.2,5.45,5.7,5.95,6.2,6.45,6.75]],
  [90.26,[4.35,4.6,4.85,5.1,5.35,5.6,5.85,6.1,6.4,6.7]],
  [90.31,[4.25,4.6,4.8,5.05,5.3,5.6,5.9,6.2,6.55]],
  [90.35,[4.4,4.7,5.0,5.35,5.75,6.1,6.5]],
  [90.39,[4.0,4.25,4.55]],
  [91.1,[5.9,6.2,6.5,6.9,7.2,7.5,8.0,8.5,8.9,9.25,9.6,9.85,3.98,2.9,2.55]],
  [91.14,[5.85,6.15,6.45,6.75,7.05,7.3,7.65,8.0,8.35,8.7,9.0,9.3,9.55,9.8,10.0]],
  [91.19,[6.05,6.3,6.6,6.9,7.2,7.5,7.85,8.2,8.6,9.4,9.6,9.85,10.05]],
  [91.24,[5.9,6.15,6.45,6.75,7.05,7.35,7.7,8.05,8.45,9.35,9.55,9.75,9.95,10.1]],
  [91.29,[5.75,6.05,6.35,6.65,6.95,7.25,7.55,7.9,8.3,9.4,9.6,9.8,10.0]],
  [91.34,[5.8,6.1,6.4,6.7,7.0,7.3,7.65,8.0,8.75,9.45,9.65,9.85,10.1]],
  [91.39,[5.9,6.2,6.5,6.8,7.1,7.4,7.75,8.2,9.5,9.7,9.9,10.15]],
  [91.44,[5.75,6.05,6.3,6.6,6.9,7.2,7.5,7.85,9.5,9.7,9.95,10.2]],
  [91.49,[5.7,6.0,6.25,6.55,6.85,7.15,7.45,7.7,9.6,9.85,10.05]],
  [91.53,[5.45,5.8,6.1,6.4,6.7,7.05,7.35,7.6,4.6,4.05,3.85,3.45,3.35,3.25]],
  [91.57,[5.2,5.5,5.8,6.15,6.45,6.75,7.05,7.3,7.55]],
  [91.62,[5.05,5.35,5.7,6.0,6.35,6.7,7.0,7.4,3.5,3.05,2.85,2.75,2.6]],
];

const denseFill: Column[] = [
  [61.07,[5.72,6.23,6.71,7.18]],[61.17,[5.47,5.93,6.37,6.83,7.08]],[61.27,[5.58,6.07,6.46,6.97]],[61.37,[5.33,5.82,6.28,6.74,7.36]],
  [61.48,[5.12,5.63,6.12,6.62,7.13,7.66]],[61.58,[5.37,5.87,6.44,6.92,7.48]],[61.69,[5.28,5.78,6.38,6.93,7.46,7.97]],[61.8,[5.42,6.17,6.73,7.27]],
  [61.91,[5.26,5.83,6.41,6.93]],[62.03,[5.46,6.02,6.53,7.07]],[62.17,[4.82,5.38,5.97,6.36,6.88]],[62.22,[4.58,5.12,5.68,6.22,6.77]],
  [62.28,[4.88,5.48,5.92,6.53,7.03]],[62.34,[4.62,5.18,5.76,6.37,6.94]],[62.4,[4.95,5.37,5.91,6.43,6.97]],[62.46,[5.22,5.66,6.18,6.72,7.22]],
  [62.52,[5.47,5.93,6.44,6.97,7.52]],[62.57,[5.53,6.13,6.67,7.17,7.73]],[62.71,[5.33,5.93,6.53,7.08,7.63]],[62.77,[4.77,5.23,5.83,6.33,6.88,7.42]],
  [62.82,[4.92,5.46,5.98,6.53,7.08]],[62.87,[4.68,5.28,5.88,6.43,6.97]],[62.92,[4.57,5.08,5.63,6.17,6.68,7.22]],[62.98,[4.53,5.12,5.67,6.18,6.72]],
  [63.04,[4.42,4.87,5.33,5.87,6.37,6.93]],[63.1,[4.62,5.17,5.73,6.23,6.83]],[63.14,[4.78,5.37,5.92,6.47,6.97]],
  [63.75,[5.03,5.52,5.98,6.52,6.97]],[63.8,[5.23,5.72,6.23,6.72]],[63.85,[5.08,5.53,6.03,6.57,7.07]],[63.9,[5.18,5.68,6.17,6.67]],[63.95,[5.03,5.57,6.08,6.58]],[64.0,[5.28,5.77,6.27,6.78]],[64.05,[5.08,5.58,6.07,6.62]],[64.09,[5.13,5.68,6.22,6.72]],
  [64.37,[4.98,5.42,5.93,6.43,6.92]],[64.42,[5.03,5.52,6.03,6.53,7.03]],[64.47,[5.13,5.68,6.13,6.62]],[64.52,[4.98,5.47,6.03,6.53,7.02]],[64.57,[5.08,5.62,6.12,6.62]],[64.62,[5.33,5.83,6.33,6.83]],[64.67,[4.98,5.42,5.92,6.42,6.93]],[64.72,[5.22,5.73,6.27,6.78]],
  [64.97,[4.78,5.37,5.87,6.37,6.88]],[65.03,[4.73,5.23,5.73,6.27,6.78]],[65.08,[4.87,5.42,5.92,6.42,6.92]],[65.13,[4.67,5.22,5.68,6.18,6.73]],[65.18,[4.93,5.43,5.93,6.43,6.97]],[65.23,[5.03,5.58,6.08,6.58]],[65.28,[5.53,6.12,6.72,7.23]],
  [65.6,[4.92,5.43,5.93,6.43,6.93]],[65.66,[5.03,5.53,6.03,6.53]],[65.72,[4.98,5.53,6.03,6.53,7.03]],[65.78,[5.03,5.58,6.08,6.58]],[65.84,[5.02,5.63,6.23,6.82]],
  [66.4,[5.48,5.98,6.53,7.13,7.68]],[66.45,[5.58,6.13,6.73,7.23,7.78]],[66.5,[5.63,6.2,6.73,7.23,7.83]],[66.55,[5.58,6.13,6.63,7.18,7.68]],[66.6,[5.48,5.98,6.53,7.13,7.63]],[66.65,[5.48,6.03,6.58,7.08,7.63]],[66.7,[5.58,6.18,6.73,7.33,7.88]],[66.75,[5.43,6.03,6.63,7.18,7.73]],[66.8,[5.63,6.23,6.83,7.38,7.93]],
  [67.31,[5.38,5.93,6.47,6.98,7.57,8.23]],[67.36,[5.33,5.88,6.38,6.93,7.47,8.12]],[67.41,[5.48,6.03,6.58,7.12,7.72]],[67.46,[5.38,5.93,6.48,7.03,7.62,8.27]],[67.51,[5.58,6.08,6.67,7.22,7.83,8.5]],[67.56,[5.33,5.88,6.48,7.07,7.67,8.3]],[67.61,[5.48,6.03,6.58,7.12,7.72,8.4]],[67.66,[5.6,6.15,6.72,7.28,7.88]],[67.71,[5.73,6.28,6.85,7.45,8.12]],[67.76,[5.85,6.4,7.0,7.6,8.2]],
  [68.15,[4.68,4.95,5.47,5.98,6.48,6.98]],[68.2,[4.77,5.28,5.78,6.28,6.78]],[68.25,[4.72,5.22,5.72,6.27,6.78,7.32]],[68.3,[4.87,5.38,5.88,6.38,6.88]],[68.35,[4.67,5.22,5.72,6.22,6.72]],[68.4,[4.6,5.08,5.58,6.08,6.62]],[68.44,[4.55,5.33,5.83,6.38,6.95]],
  [69.65,[4.63,5.13,5.63,6.13,6.63,7.18]],[69.7,[4.83,5.33,5.83,6.33,6.83]],[69.75,[4.63,5.18,5.68,6.18,6.72,7.32]],[69.8,[4.62,5.13,5.63,6.13,6.63,7.2]],[69.85,[4.83,5.33,5.83,6.33,6.88]],[69.89,[4.9,5.55,6.25,6.9]],
  [70.55,[4.33,4.63,5.03,5.53,5.97]],[70.6,[4.28,4.72,5.22,5.73]],[70.65,[4.2,4.68,5.12,5.58,6.0]],[70.7,[4.08,4.58,5.03,5.53]],[70.75,[4.03,4.53,4.98,5.43,5.93]],[70.8,[4.18,4.63,5.08,5.58]],[70.85,[4.28,4.72,5.18,5.63]],[70.89,[4.25,4.68,5.12,5.58]],[70.94,[4.18,4.62,5.08,5.53]],[70.99,[4.12,4.58,5.03,5.48]],[71.04,[4.13,4.63,5.08,5.58]],[71.08,[4.15,4.63,5.13,5.68]],[71.12,[4.18,4.68,5.18,5.68]],
  [71.67,[4.63,5.08,5.48,5.88,6.28]],[71.72,[4.53,5.03,5.48,5.88,6.33]],[71.77,[4.53,4.98,5.38,5.78,6.18]],[71.82,[4.58,5.03,5.43,5.83,6.23]],[71.87,[4.48,4.93,5.35,5.75,6.15]],[71.92,[4.53,5.0,5.4,5.8,6.2]],[71.97,[4.58,5.08,5.5,5.9,6.3]],[72.02,[4.5,4.95,5.35,5.75,6.15]],[72.07,[4.5,5.0,5.43,5.83,6.23]],[72.12,[4.58,5.08,5.5,5.9,6.3]],[72.17,[4.65,5.2,5.7,6.2]],
  [77.03,[4.7,5.15,5.68,6.18,6.68]],[77.08,[4.78,5.28,5.78,6.28,6.78]],[77.13,[4.98,5.48,5.98,6.48,6.98]],[77.18,[5.18,5.73,6.22,6.73,7.18]],[77.23,[5.22,5.73,6.23,6.73,7.23]],[77.28,[5.43,5.93,6.43,6.93,7.43,7.93]],[77.33,[5.33,5.83,6.33,6.83,7.33,7.83]],[77.38,[5.48,5.98,6.48,6.98,7.48,8.08]],[77.43,[5.33,5.93,6.43,6.93,7.43,7.93]],[77.48,[5.48,6.03,6.53,7.03,7.53]],[77.53,[5.43,5.93,6.43,6.93,7.43]],[77.58,[5.38,5.88,6.38,6.88]],[77.63,[5.33,5.83,6.33,6.83]],[77.69,[5.48,5.98,6.48,6.98]],[77.75,[5.43,5.93,6.43,6.93]],[77.81,[5.38,5.88,6.38,6.88]],
  [77.94,[5.38,5.93,6.43,6.93,7.5,8.15,8.45]],[77.99,[5.45,5.98,6.48,6.98,7.6,8.2,8.55]],[78.04,[5.5,6.03,6.58,7.08,7.68,8.33]],[78.09,[5.4,5.98,6.48,7.05,7.75,8.4]],[78.14,[5.5,6.03,6.55,7.15,7.75]],[78.19,[5.65,6.18,6.7,7.33]],[78.24,[5.5,6.03,6.55,7.1]],[78.29,[5.18,5.68,6.18,6.68]],[78.35,[5.08,5.58,6.08,6.58]],[78.41,[5.13,5.63,6.13,6.63]],[78.47,[5.03,5.53,6.03,6.6]],[78.52,[4.95,5.48,5.98,6.55]],
  [82.39,[4.9,5.3,5.7,6.13,6.58]],[82.44,[4.88,5.3,5.7,6.1,6.53]],[82.49,[4.93,5.2,5.6,6.0,6.4]],[82.54,[4.8,5.3,5.7,6.1,6.5]],[82.59,[4.95,5.2,5.6,6.0,6.4]],[82.64,[4.8,5.25,5.65,6.05,6.45]],[82.69,[4.9,5.35,5.75,6.15,6.62]],[82.74,[4.95,5.4,5.8,6.2,6.63]],[82.79,[4.88,5.3,5.73,6.23,6.73]],
  [84.94,[5.55,6.15,6.75,7.25,7.85]],[84.99,[5.7,6.3,6.83,7.35,7.95]],[85.04,[5.3,5.95,6.5,6.98,7.55,8.2]],[85.09,[5.35,6.03,6.6,7.15,7.75]],[85.14,[5.35,6.1,6.7,7.3,8.05]],
  [86.7,[5.47,6.12,6.8,7.38,8.1]],[86.75,[5.33,6.03,6.65,7.25,7.88]],[86.8,[5.43,6.13,6.75,7.35,7.95]],[86.85,[5.28,5.98,6.6,7.2,7.83]],[86.9,[5.5,6.23,6.85,7.45,8.08]],
  [89.25,[5.7,6.3,6.9,7.45,8.05]],[89.35,[5.58,6.25,6.85,7.45,8.0]],[89.45,[5.7,6.35,7.0,7.6,8.2]],[89.55,[5.85,6.45,7.05,7.65]],
  [90.2,[4.6,5.1,5.6,6.1,6.6]],[90.24,[4.6,5.08,5.58,6.08,6.55]],[90.28,[4.48,4.98,5.48,5.98,6.55]],
  [91.17,[6.0,6.58,7.18,7.83,8.55,9.5,9.72,9.92]],[91.22,[6.03,6.6,7.2,7.88,9.45,9.65,9.85,10.03]],[91.27,[5.9,6.5,7.1,7.72,9.5,9.7,9.9]],[91.32,[5.95,6.55,7.15,7.83,9.55,9.75,9.95]],[91.37,[6.05,6.65,7.25,7.95,9.6,9.8,10.03]],[91.42,[5.9,6.45,7.05,7.68,9.6,9.82,10.08]],[91.47,[5.85,6.4,7.0,7.58,9.72,9.95]],[91.55,[5.33,5.95,6.55,7.18]],
];

const allColumns: Column[] = [
  ...block60to64,
  ...block64to69,
  ...block69to73,
  ...block73to79,
  ...block79to85,
  ...block86to92,
  ...denseFill,
];

const sibPoints = allColumns.flatMap(([x, ys]) => ys.map((y) => ({ x, y })));
const fitPoints = fitX.map((x, i) => ({ x, y: fitY[i] }));

const framePlugin = {
  id: "frameAndLegend",
  afterDatasetsDraw(chart: any) {
    const { ctx, chartArea: a } = chart;
    ctx.save();
    ctx.strokeStyle = "#000";
    ctx.lineWidth = 2;
    ctx.strokeRect(a.left, a.top, a.right - a.left, a.bottom - a.top);

    const bx = 263, by = 62, bw = 383, bh = 45, r = 5;
    ctx.beginPath();
    ctx.roundRect(bx, by, bw, bh, r);
    ctx.fillStyle = "rgba(255,255,255,0.8)";
    ctx.fill();
    ctx.strokeStyle = "rgba(204,204,204,0.8)";
    ctx.lineWidth = 2;
    ctx.stroke();

    ctx.fillStyle = "#0000ff";
    ctx.beginPath();
    ctx.arc(298.5, 83.5, 2.2, 0, Math.PI * 2);
    ctx.fill();

    ctx.fillStyle = "#000";
    ctx.font = '25.33px "DejaVu Sans"';
    ctx.textBaseline = "alphabetic";
    ctx.textAlign = "left";
    ctx.fillText(legendLabel, 342, 92);
    ctx.restore();
  },
};

export default function App() {
  const ref = useRef<HTMLCanvasElement>(null);
  useEffect(() => {
    document.body.style.margin = "0";
    const chart = new Chart(ref.current!, {
      type: "scatter",
      data: {
        datasets: [
          {
            label: legendLabel,
            data: sibPoints,
            backgroundColor: "#0000ff",
            borderWidth: 0,
            pointRadius: 2.2,
            pointHoverRadius: 2.2,
            order: 2,
          },
          {
            label: "fit",
            type: "line",
            data: fitPoints,
            borderColor: "#ff0000",
            borderWidth: 3,
            pointRadius: 0,
            fill: false,
            order: 1,
          } as any,
        ],
      },
      options: {
        responsive: false,
        animation: false,
        layout: { padding: { top: 50, right: 200, left: 0, bottom: 0 } },
        plugins: { legend: { display: false }, tooltip: { enabled: false } },
        scales: {
          x: {
            type: "linear",
            min: fitX[0],
            max: fitX[1],
            afterBuildTicks: (s: any) => {
              s.ticks = xTickValues.map((value) => ({ value }));
            },
            afterFit: (s: any) => {
              s.height = 46;
            },
            ticks: {
              autoSkip: false,
              maxRotation: 0,
              color: "#000",
              padding: 8,
              font: { family: '"DejaVu Sans"', size: 24.5 },
              callback: (v: any) => String(v),
            },
            grid: { drawOnChartArea: false, drawTicks: true, tickLength: 10, tickColor: "#000", tickWidth: 2 },
            border: { color: "#000", width: 2 },
          },
          y: {
            type: "linear",
            min: 0,
            max: 12.84,
            afterBuildTicks: (s: any) => {
              s.ticks = yTickValues.map((value) => ({ value }));
            },
            afterFit: (s: any) => {
              s.width = 250;
            },
            title: { display: false },
            ticks: {
              autoSkip: false,
              color: "#000",
              padding: 10,
              font: { family: '"DejaVu Sans"', size: 24.5 },
              callback: (v: any) => Number(v).toFixed(1),
            },
            grid: { drawOnChartArea: false, drawTicks: true, tickLength: 10, tickColor: "#000", tickWidth: 2 },
            border: { color: "#000", width: 2 },
          },
        },
      },
      plugins: [
        framePlugin,
        {
          id: "yTitle",
          afterDraw(c: any) {
            const { ctx } = c;
            ctx.save();
            ctx.translate(155, 212);
            ctx.rotate(-Math.PI / 2);
            ctx.fillStyle = "#000";
            ctx.font = '20px "DejaVu Sans"';
            ctx.textAlign = "center";
            ctx.textBaseline = "middle";
            ctx.fillText(yTitle, 0, 0);
            ctx.restore();
          },
        },
      ],
    } as any);
    return () => chart.destroy();
  }, []);
  return (
    <div style={{ position: "absolute", left: 0, top: 0, width: 2000, height: 416 }}>
      <canvas ref={ref} width={2000} height={416} style={{ display: "block" }} />
    </div>
  );
}
